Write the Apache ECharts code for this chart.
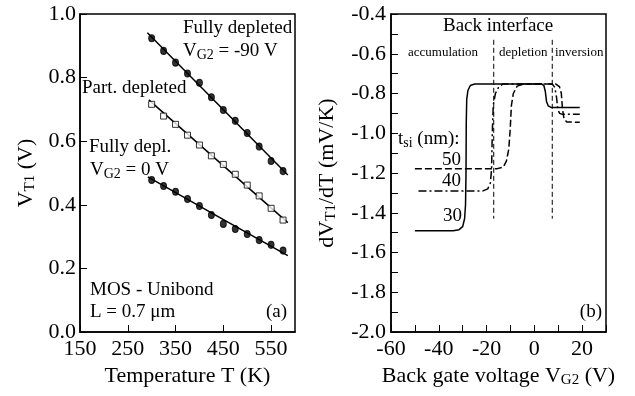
<!DOCTYPE html>
<html>
<head>
<meta charset="utf-8">
<script src="https://cdn.jsdelivr.net/npm/echarts@6/dist/echarts.min.js"></script>
<style>
  html, body { margin: 0; padding: 0; background: #fff; }
  #main { width: 635px; height: 396px; }
</style>
</head>
<body>
<div id="main"></div>
<script>
// panel (a): threshold voltage vs temperature
const temps = [300, 325, 350, 375, 400, 425, 450, 475, 500, 525, 550, 575];
const vtFullM90 = [0.924, 0.884, 0.847, 0.813, 0.784, 0.738, 0.698, 0.664, 0.626, 0.583, 0.538, 0.506];
const vtPart = [0.716, 0.679, 0.653, 0.619, 0.588, 0.554, 0.527, 0.496, 0.462, 0.428, 0.389, 0.352];
const vtFull0 = [0.478, 0.459, 0.441, 0.418, 0.396, 0.368, 0.340, 0.324, 0.308, 0.289, 0.274, 0.256];
// fitted lines
const fitFullM90 = [[291, 0.941], [585, 0.494]];
const fitPart = [[294, 0.730], [585, 0.344]];
const fitFull0 = [[292, 0.488], [440, 0.362], [585, 0.240]];

// panel (b): dVT1/dT vs back gate voltage, for tsi = 30, 40, 50 nm
const curve30 = [[-50, -1.49], [-34, -1.49], [-31.5, -1.485], [-30, -1.47], [-29.2, -1.43], [-28.8, -1.36],
  [-28.6, -1.2], [-28.5, -0.95], [-28.3, -0.83], [-27.8, -0.785], [-26.8, -0.76], [-25, -0.752],
  [3, -0.752], [4, -0.76], [4.6, -0.79], [5.1, -0.84], [5.8, -0.862], [7, -0.87], [19, -0.87]];
const curve40 = [[-48.5, -1.29], [-21.5, -1.29], [-19.5, -1.28], [-18.4, -1.25], [-17.9, -1.18], [-17.6, -1.0],
  [-17.2, -0.86], [-16.3, -0.8], [-14.8, -0.765], [-13, -0.752], [7.5, -0.752], [8.6, -0.77], [9.3, -0.82],
  [9.8, -0.88], [10.6, -0.9], [11.8, -0.905], [19, -0.905]];
const curve50 = [[-50, -1.178], [-15.5, -1.178], [-13, -1.17], [-11.7, -1.14], [-10.7, -1.08], [-10.1, -0.98],
  [-9.6, -0.86], [-8.8, -0.8], [-7.2, -0.763], [-4.5, -0.752], [8.9, -0.752], [10.5, -0.765], [11.3, -0.8],
  [11.8, -0.88], [12.4, -0.925], [13.5, -0.943], [19, -0.945]];
// region boundaries
const boundary1 = [[-17, -0.53], [-17, -1.43]];
const boundary2 = [[7.5, -0.53], [7.5, -1.43]];

const FONT = 'Liberation Serif';
const sub = { fontSize: 15, fontFamily: FONT, padding: [9, 0, 0, 0] };
const nrm = { fontSize: 22, fontFamily: FONT };

const pair = (xs, ys) => xs.map((x, i) => [x, ys[i]]);

const lineSeries = (xi, data, type, extra) => Object.assign({
  type: 'line', xAxisIndex: xi, yAxisIndex: xi, data: data, symbol: 'none',
  lineStyle: { color: '#000', width: 1.5, type: type }, z: 3
}, extra || {});

const dotSeries = (data, sym, fill) => ({
  type: 'scatter', xAxisIndex: 0, yAxisIndex: 0, data: data, symbol: sym,
  symbolSize: sym === 'rect' ? 6 : [6, 7],
  itemStyle: { color: fill, borderColor: '#000', borderWidth: 1 }, z: 4
});

const axisCommon = {
  axisLine: { onZero: false, lineStyle: { color: '#000', width: 1.5 } },
  axisTick: { inside: true, length: 7, lineStyle: { color: '#000', width: 1 } },
  splitLine: { show: false },
  axisLabel: { color: '#000', fontSize: 22, fontFamily: FONT },
  nameTextStyle: { color: '#000', fontSize: 22, fontFamily: FONT, rich: { n: nrm, s: sub } }
};

const txt = (x, y, text, size, align) => ({
  type: 'text', x: x, y: y, z: 10,
  style: {
    text: text, fill: '#000', font: size + 'px ' + FONT, fontSize: size, fontFamily: FONT,
    align: align || 'left', verticalAlign: 'middle',
    rich: { n: { fontSize: size, fontFamily: FONT }, s: { fontSize: Math.round(size * 0.72), fontFamily: FONT, padding: [8, 0, 0, 0] } }
  }
});

const chart = echarts.init(document.getElementById('main'));
chart.setOption({
  animation: false,
  backgroundColor: '#fff',
  grid: [
    { left: 80, top: 14, width: 215, height: 318, show: true, borderColor: '#000', borderWidth: 1.5 },
    { left: 391, top: 14, width: 215, height: 318, show: true, borderColor: '#000', borderWidth: 1.5 }
  ],
  xAxis: [
    Object.assign({}, axisCommon, {
      gridIndex: 0, type: 'value', min: 150, max: 600, interval: 100,
      name: 'Temperature T (K)', nameLocation: 'middle', nameGap: 32,
      axisLabel: Object.assign({}, axisCommon.axisLabel, { margin: 6, showMaxLabel: false })
    }),
    Object.assign({}, axisCommon, {
      gridIndex: 1, type: 'value', min: -60, max: 30, interval: 20,
      name: '{n|Back gate voltage V}{s|G2}{n| (V)}', nameLocation: 'middle', nameGap: 32,
      minorTick: { show: true, splitNumber: 2, length: 7, lineStyle: { color: '#000', width: 1 } },
      axisLabel: Object.assign({}, axisCommon.axisLabel, { margin: 6, showMaxLabel: false })
    })
  ],
  yAxis: [
    Object.assign({}, axisCommon, {
      gridIndex: 0, type: 'value', min: 0, max: 1, interval: 0.2,
      name: '{n|V}{s|T1}{n| (V)}', nameLocation: 'middle', nameGap: 42,
      axisLabel: Object.assign({}, axisCommon.axisLabel, { margin: 4, formatter: v => v.toFixed(1) })
    }),
    Object.assign({}, axisCommon, {
      gridIndex: 1, type: 'value', min: -2, max: -0.4, interval: 0.2,
      name: '{n|dV}{s|T1}{n|/dT (mV/K)}', nameLocation: 'middle', nameGap: 52,
      minorTick: { show: true, splitNumber: 2, length: 7, lineStyle: { color: '#000', width: 1 } },
      axisLabel: Object.assign({}, axisCommon.axisLabel, { margin: 5, formatter: v => v.toFixed(1) })
    })
  ],
  series: [
    lineSeries(0, fitFullM90, 'solid'),
    lineSeries(0, fitPart, 'solid'),
    lineSeries(0, fitFull0, 'solid'),
    dotSeries(pair(temps, vtFullM90), 'circle', '#000'),
    dotSeries(pair(temps, vtPart), 'rect', '#fff'),
    dotSeries(pair(temps, vtFull0), 'circle', '#000'),
    lineSeries(1, curve30, 'solid'),
    lineSeries(1, curve40, [8, 3, 2, 3]),
    lineSeries(1, curve50, [7, 3]),
    lineSeries(1, boundary1, [5, 3], { lineStyle: { color: '#000', width: 1, type: [5, 3] } }),
    lineSeries(1, boundary2, [5, 3], { lineStyle: { color: '#000', width: 1, type: [5, 3] } })
  ],
  graphic: [
    txt(183, 28, 'Fully depleted', 19),
    txt(183, 51, '{n|V}{s|G2}{n| = -90 V}', 19),
    txt(82, 88, 'Part. depleted', 19),
    txt(89, 147, 'Fully depl.', 19),
    txt(90, 170, '{n|V}{s|G2}{n| = 0 V}', 19),
    txt(90, 290, 'MOS - Unibond', 19),
    txt(90, 312, 'L = 0.7 μm', 19),
    txt(287, 312, '(a)', 19, 'right'),
    txt(443, 26, 'Back interface', 19),
    txt(408, 53, 'accumulation', 13),
    txt(499, 53, 'depletion', 13),
    txt(555, 53, 'inversion', 13),
    txt(398, 139, '{n|t}{s|si}{n| (nm):}', 19),
    txt(442, 160, '50', 19),
    txt(442, 181, '40', 19),
    txt(443, 216, '30', 19),
    txt(602, 312, '(b)', 19, 'right')
  ]
});
</script>
</body>
</html>
